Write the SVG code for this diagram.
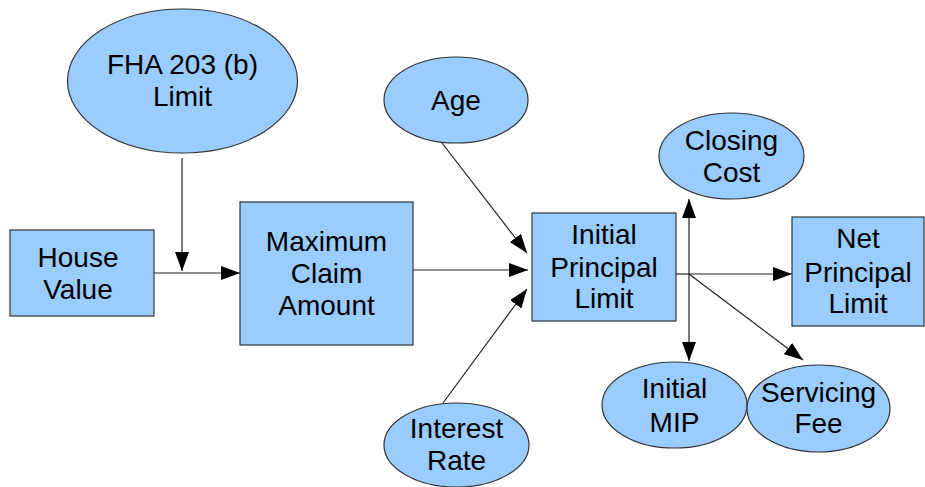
<svg xmlns="http://www.w3.org/2000/svg" width="925" height="487" viewBox="0 0 925 487">
<defs>
<marker id="arr" markerUnits="userSpaceOnUse" markerWidth="20" markerHeight="14" refX="19" refY="7" orient="auto">
<path d="M0,0 L19,7 L0,14 z" fill="#000"/>
</marker>
<style>
.n{fill:#99ccff;stroke:#333;stroke-width:1.2}
.t{font-family:"Liberation Sans",Arial,sans-serif;font-size:28px;fill:#000;text-anchor:middle}
.c{stroke:#222;stroke-width:1.2;fill:none}
</style>
</defs>
<rect width="925" height="487" fill="#fff"/>
<g id="connectors">
<line class="c" x1="182" y1="158" x2="182" y2="271" marker-end="url(#arr)"/>
<line class="c" x1="154" y1="273" x2="240" y2="273" marker-end="url(#arr)"/>
<line class="c" x1="442" y1="143" x2="527" y2="253" marker-end="url(#arr)"/>
<line class="c" x1="413" y1="270" x2="528" y2="270" marker-end="url(#arr)"/>
<line class="c" x1="443" y1="403" x2="527" y2="289" marker-end="url(#arr)"/>
<line class="c" x1="676" y1="274" x2="689" y2="274"/>
<line class="c" x1="689" y1="274" x2="689" y2="199" marker-end="url(#arr)"/>
<line class="c" x1="689" y1="274" x2="689" y2="361" marker-end="url(#arr)"/>
<line class="c" x1="689" y1="274" x2="792" y2="274" marker-end="url(#arr)"/>
<line class="c" x1="689" y1="274" x2="803" y2="360" marker-end="url(#arr)"/>
</g>
<g id="fha">
<ellipse class="n" cx="182.5" cy="81" rx="115" ry="72"/>
<text class="t" x="182.5" y="74">FHA 203 (b)</text>
<text class="t" x="182.5" y="106">Limit</text>
</g>
<g id="house">
<rect class="n" x="10" y="230" width="144" height="86"/>
<text class="t" x="78" y="267">House</text>
<text class="t" x="78" y="299">Value</text>
</g>
<g id="mca">
<rect class="n" x="240" y="202" width="173" height="143"/>
<text class="t" x="326.5" y="251">Maximum</text>
<text class="t" x="326.5" y="283">Claim</text>
<text class="t" x="326.5" y="315">Amount</text>
</g>
<g id="age">
<ellipse class="n" cx="456" cy="100" rx="72" ry="43"/>
<text class="t" x="456" y="110">Age</text>
</g>
<g id="ipl">
<rect class="n" x="532" y="213" width="144" height="108"/>
<text class="t" x="604" y="244">Initial</text>
<text class="t" x="604" y="277">Principal</text>
<text class="t" x="604" y="308">Limit</text>
</g>
<g id="interest">
<ellipse class="n" cx="456.5" cy="445" rx="72.5" ry="42"/>
<text class="t" x="456.5" y="438">Interest</text>
<text class="t" x="456.5" y="470">Rate</text>
</g>
<g id="closing">
<ellipse class="n" cx="731.5" cy="156" rx="72.5" ry="43"/>
<text class="t" x="731.5" y="150">Closing</text>
<text class="t" x="731.5" y="182">Cost</text>
</g>
<g id="npl">
<rect class="n" x="792" y="217" width="132" height="109"/>
<text class="t" x="858" y="248">Net</text>
<text class="t" x="858" y="282">Principal</text>
<text class="t" x="858" y="313">Limit</text>
</g>
<g id="mip">
<ellipse class="n" cx="674.5" cy="405" rx="72.5" ry="43"/>
<text class="t" x="674.5" y="398">Initial</text>
<text class="t" x="674.5" y="432">MIP</text>
</g>
<g id="servicing">
<ellipse class="n" cx="818.5" cy="408.5" rx="71.5" ry="43.5"/>
<text class="t" x="818.5" y="402">Servicing</text>
<text class="t" x="818.5" y="433">Fee</text>
</g>
</svg>
